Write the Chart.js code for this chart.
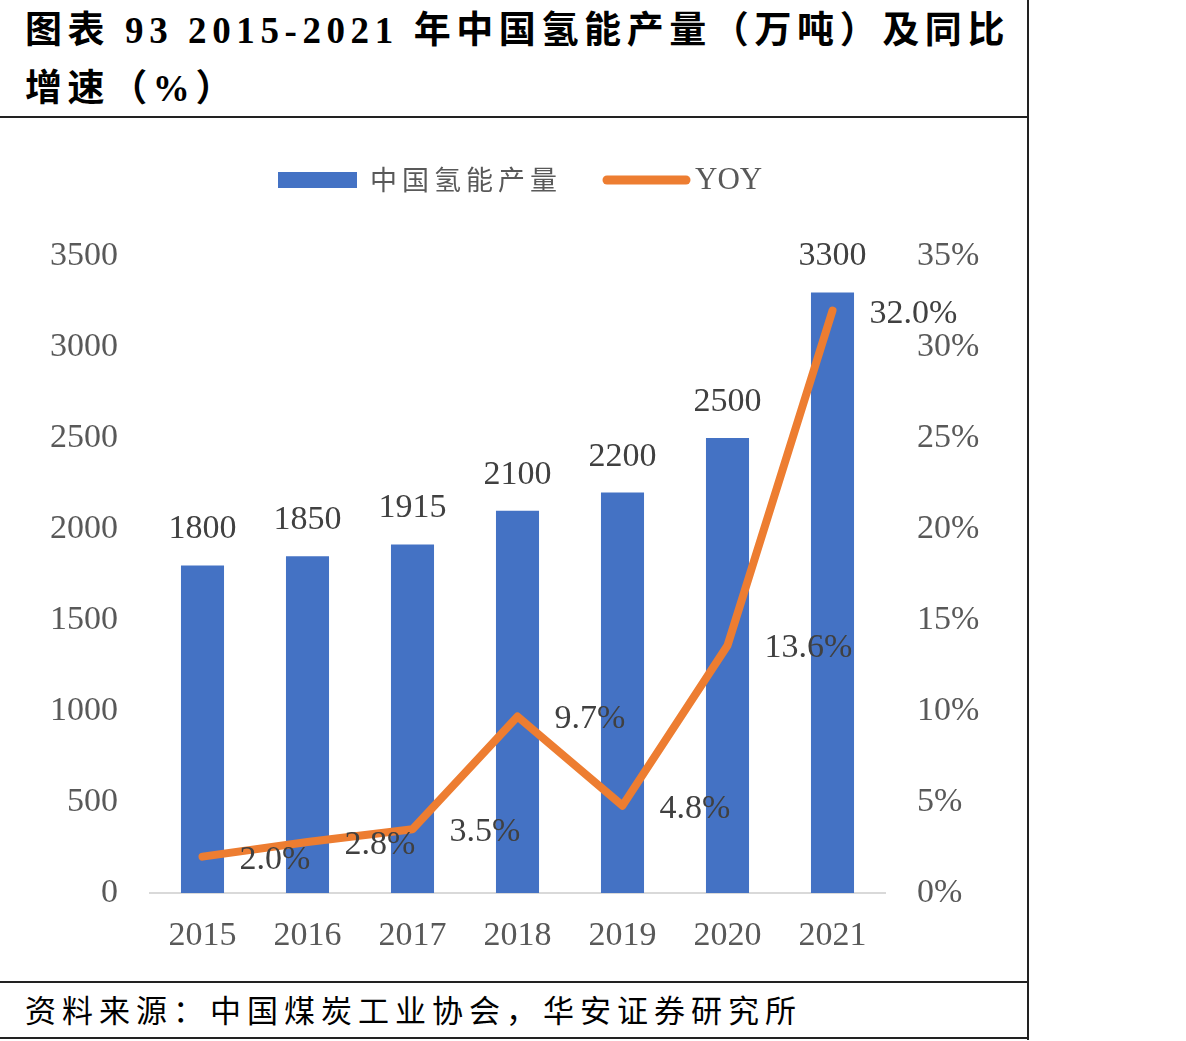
<!DOCTYPE html>
<html>
<head>
<meta charset="utf-8">
<script src="https://cdn.jsdelivr.net/npm/chart.js@4"></script>
<style>
  body { margin: 0; background: #fff; width: 1186px; height: 1041px; position: relative; overflow: hidden; }
  #title { position: absolute; left: 25px; top: 2px; font: bold 37px "Liberation Serif", "Noto Sans CJK SC"; letter-spacing: 5.6px; line-height: 58px; color: #000; }
  #source { position: absolute; left: 25px; top: 986px; font: 31px "Liberation Serif", "Noto Sans CJK SC"; letter-spacing: 6px; color: #000; }
  .hl { position: absolute; left: 0; width: 1029px; height: 2px; background: #222; }
  .vl { position: absolute; left: 1027px; top: 0; width: 2px; height: 1040px; background: #222; }
  #chart { position: absolute; left: 0; top: 118px; }
</style>
</head>
<body>
<div id="title">图表 93 2015-2021 年中国氢能产量（万吨）及同比<br>增速（%）</div>
<div class="hl" style="top:116px"></div>
<div class="hl" style="top:981px"></div>
<div class="hl" style="top:1037px"></div>
<div class="vl"></div>
<div id="source">资料来源：中国煤炭工业协会，华安证券研究所</div>
<canvas id="chart" width="1028" height="862"></canvas>
<script>
// données
const years = ['2015', '2016', '2017', '2018', '2019', '2020', '2021'];
const output = [1800, 1850, 1915, 2100, 2200, 2500, 3300]; // 万吨
const yoy = [2.0, 2.8, 3.5, 9.7, 4.8, 13.6, 32.0];        // %
const leftTicks = [0, 500, 1000, 1500, 2000, 2500, 3000, 3500];
const rightTicks = [0, 5, 10, 15, 20, 25, 30, 35];

const numFont = '"Liberation Serif", serif';
const gray = '#595959';

// étiquettes de valeurs + légende dessinée à la main
const labelsPlugin = {
  id: 'labels',
  afterDatasetsDraw(chart) {
    const ctx = chart.ctx;
    ctx.save();
    ctx.font = '34px ' + numFont;
    ctx.fillStyle = '#404040';
    ctx.textAlign = 'center';
    ctx.textBaseline = 'middle';
    chart.getDatasetMeta(1).data.forEach((el, i) => {
      ctx.fillText(String(output[i]), el.x, el.y - 36);
    });
    ctx.textAlign = 'left';
    chart.getDatasetMeta(0).data.forEach((el, i) => {
      ctx.fillText(yoy[i].toFixed(1) + '%', el.x + 37, el.y + 3);
    });
    ctx.restore();
  },
  afterDraw(chart) {
    const ctx = chart.ctx;
    const y = 62;
    ctx.save();
    ctx.fillStyle = '#4472C4';
    ctx.fillRect(278, y - 8, 79, 16);
    ctx.fillStyle = gray;
    ctx.textBaseline = 'middle';
    ctx.font = '27px "Noto Sans CJK SC"';
    ctx.letterSpacing = '5px';
    ctx.fillText('中国氢能产量', 370, y);
    ctx.letterSpacing = '0px';
    ctx.strokeStyle = '#ED7D31';
    ctx.lineWidth = 9;
    ctx.lineCap = 'round';
    ctx.beginPath();
    ctx.moveTo(607, y);
    ctx.lineTo(686, y);
    ctx.stroke();
    ctx.font = '31px ' + numFont;
    ctx.fillText('YOY', 695, y + 1);
    ctx.restore();
  }
};

new Chart(document.getElementById('chart'), {
  type: 'bar',
  data: {
    labels: years,
    datasets: [
      {
        type: 'line',
        label: 'YOY',
        data: yoy,
        yAxisID: 'y1',
        borderColor: '#ED7D31',
        borderWidth: 8,
        borderCapStyle: 'round',
        borderJoinStyle: 'round',
        pointRadius: 0,
        tension: 0,
        order: 0
      },
      {
        label: '中国氢能产量',
        data: output,
        yAxisID: 'y',
        backgroundColor: '#4472C4',
        categoryPercentage: 1,
        barPercentage: 0.41,
        order: 1
      }
    ]
  },
  options: {
    responsive: false,
    animation: false,
    layout: { padding: { top: 138, left: 0, right: 0, bottom: 0 } },
    plugins: { legend: { display: false }, tooltip: { enabled: false } },
    scales: {
      x: {
        grid: { display: false },
        border: { display: true, color: '#d9d9d9', width: 2 },
        ticks: { font: { family: numFont, size: 34 }, color: gray, padding: 15 },
        afterFit(s) { s.height = 87; }
      },
      y: {
        position: 'left',
        min: 0, max: 3500,
        afterBuildTicks(s) { s.ticks = leftTicks.map(v => ({ value: v })); },
        grid: { display: false },
        border: { display: false },
        ticks: { font: { family: numFont, size: 34 }, color: gray, padding: 24, callback: v => String(v) },
        afterFit(s) { s.width = 150; }
      },
      y1: {
        position: 'right',
        min: 0, max: 35,
        afterBuildTicks(s) { s.ticks = rightTicks.map(v => ({ value: v })); },
        grid: { display: false },
        border: { display: false },
        ticks: { font: { family: numFont, size: 34 }, color: gray, padding: 24, callback: v => v + '%' },
        afterFit(s) { s.width = 143; }
      }
    }
  },
  plugins: [labelsPlugin]
});
</script>
</body>
</html>
